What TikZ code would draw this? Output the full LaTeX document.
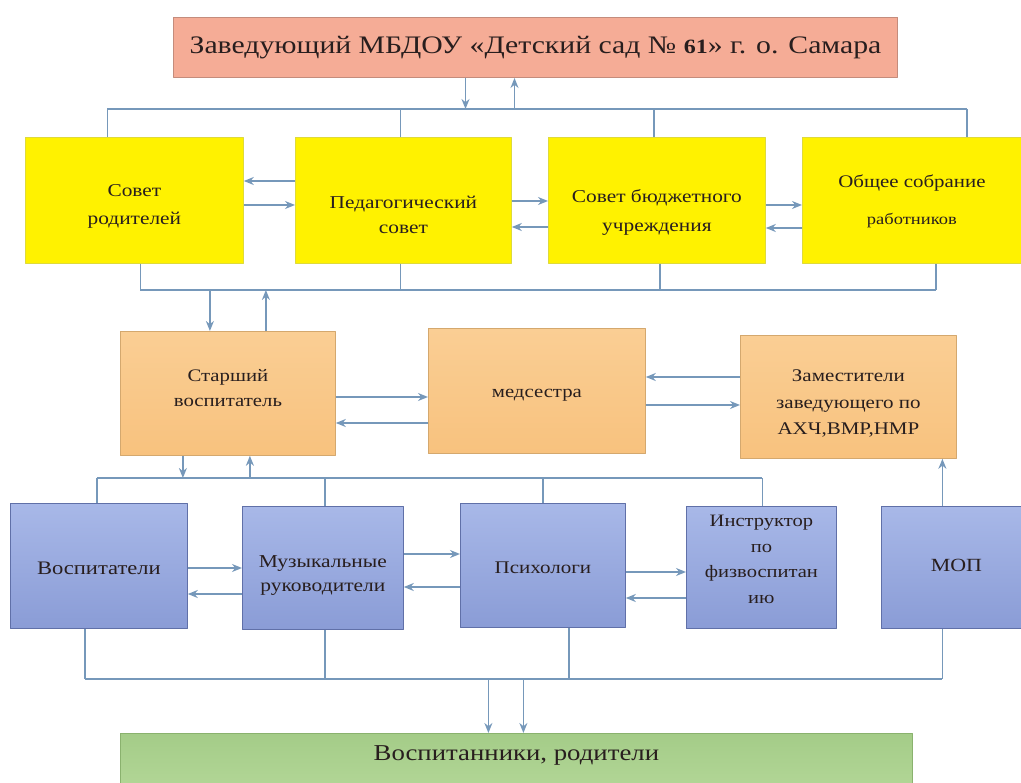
\documentclass[tikz,border=0pt]{standalone}
\usepackage{fontspec}
\setmainfont{Liberation Serif}[FakeStretch=1.18]
\usetikzlibrary{arrows.meta}
\definecolor{linkblue}{RGB}{118,152,186}
\definecolor{headfill}{RGB}{245,172,150}
\definecolor{headdraw}{RGB}{196,140,124}
\definecolor{councildraw}{RGB}{222,218,60}
\definecolor{stafftop}{RGB}{250,206,148}
\definecolor{staffbot}{RGB}{248,194,126}
\definecolor{staffdraw}{RGB}{212,168,110}
\definecolor{teamtop}{RGB}{168,184,232}
\definecolor{teambot}{RGB}{138,156,214}
\definecolor{teamdraw}{RGB}{96,112,168}
\definecolor{kidstop}{RGB}{164,204,136}
\definecolor{kidsbot}{RGB}{178,214,150}
\definecolor{kidsdraw}{RGB}{138,178,110}
\definecolor{textdark}{RGB}{40,30,30}
\begin{document}
\begin{tikzpicture}[x=1pt,y=-1pt,>={Stealth[length=10pt,width=8pt]},line join=round,
    every node/.style={align=center,text=textdark},
    box/.style={rectangle,anchor=north west,inner sep=0pt},
    head/.style={box,draw=headdraw,fill=headfill,line width=1pt},
    council/.style={box,draw=councildraw,fill=yellow,line width=0.8pt},
    staff/.style={box,draw=staffdraw,top color=stafftop,bottom color=staffbot,line width=0.8pt},
    team/.style={box,draw=teamdraw,top color=teamtop,bottom color=teambot,line width=0.8pt},
    kids/.style={box,draw=kidsdraw,top color=kidstop,bottom color=kidsbot,line width=0.8pt},
    txt/.style={inner sep=0pt},
    bus/.style={draw=linkblue,line width=1.2pt},
    arrow/.style={->,draw=linkblue,line width=1.8pt}]
    \useasboundingbox (0,0) rectangle (1021,783);
    \clip (0,0) rectangle (1021,783);
    % заведующий
    \node[head,minimum width=724,minimum height=60,font=\fontsize{25.2}{30}\selectfont] (zav) at (173,17)
        {Заведующий МБДОУ «Детский сад № {\bfseries\fontsize{20.3}{24}\selectfont 61}» г. о. Самара};
    % советы
    \node[council,minimum width=218,minimum height=126] (sr) at (25,137) {};
    \node[council,minimum width=216,minimum height=126] (ps) at (295,137) {};
    \node[council,minimum width=217,minimum height=126] (sb) at (548,137) {};
    \node[council,minimum width=219,minimum height=126] (os) at (802,137) {};
    \node[txt,font=\fontsize{18.1}{28}\selectfont] (sr-t) at ([yshift=-6]sr.center) {Совет\\родителей};
    \node[txt,font=\fontsize{18.1}{25}\selectfont] (ps-t) at ([yshift=-14]ps.center) {Педагогический\\совет};
    \node[txt,font=\fontsize{18.1}{29}\selectfont] (sb-t) at ([yshift=-12]sb.center) {Совет бюджетного\\учреждения};
    \node[txt,font=\fontsize{17.7}{37}\selectfont] (os-t) at ([yshift=-1]os.center)
        {Общее собрание\\{\fontsize{15.7}{19}\selectfont работников}};
    % старший воспитатель, медсестра, заместители
    \node[staff,minimum width=215,minimum height=124] (st) at (120,331) {};
    \node[staff,minimum width=217,minimum height=125] (ms) at (428,328) {};
    \node[staff,minimum width=216,minimum height=123] (zm) at (740,335) {};
    \node[txt,font=\fontsize{17.6}{25}\selectfont] (st-t) at ([yshift=5]st.center) {Старший\\воспитатель};
    \node[txt,font=\fontsize{17.6}{25}\selectfont] (ms-t) at ([yshift=-4]ms.center) {медсестра};
    \node[txt,font=\fontsize{17.8}{26.5}\selectfont] (zm-t) at ([yshift=-7]zm.center)
        {Заместители\\заведующего по\\АХЧ,ВМР,НМР};
    % педагоги
    \node[team,minimum width=177,minimum height=125] (vs) at (10,503) {};
    \node[team,minimum width=161,minimum height=123] (mr) at (242,506) {};
    \node[team,minimum width=165,minimum height=124] (psi) at (460,503) {};
    \node[team,minimum width=150,minimum height=122] (in) at (686,506) {};
    \node[team,minimum width=150,minimum height=122] (mop) at (881,506) {};
    \node[txt,font=\fontsize{19.1}{26}\selectfont] (vs-t) at ([yshift=-2]vs.center) {Воспитатели};
    \node[txt,font=\fontsize{18.2}{24}\selectfont] (mr-t) at ([yshift=-8]mr.center) {Музыкальные\\руководители};
    \node[txt,font=\fontsize{17.8}{26}\selectfont] (psi-t) at ([yshift=-2]psi.center) {Психологи};
    \node[txt,font=\fontsize{17.4}{25.7}\selectfont] (in-t) at ([yshift=8]in.center)
        {Инструктор\\по\\физвоспитан\\ию};
    \node[txt,font=\fontsize{18.6}{26}\selectfont] (mop-t) at ([yshift=2]mop.center) {МОП};
    % воспитанники
    \node[kids,minimum width=792,minimum height=54] (vr) at (120,733) {};
    \node[txt,font=\fontsize{22.7}{28}\selectfont] (vr-t) at ([yshift=5]vr.center) {Воспитанники, родители};

    % шины
    \coordinate (bus1) at (0,109);
    \coordinate (bus2) at (0,290);
    \coordinate (bus3) at (0,478);
    \coordinate (bus4) at (0,679);
    \draw[bus] ([xshift=-27]sr.north |- bus1) -- ([xshift=55]os.north |- bus1);
    \foreach \n/\s in {sr/-27,ps/-3,sb/-3,os/55}
        \draw[bus] ([xshift=\s]\n.north) -- ([xshift=\s]\n.north |- bus1);
    \draw[bus] ([xshift=6]sr.south |- bus2) -- ([xshift=24]os.south |- bus2);
    \foreach \n/\s in {sr/6,ps/-3,sb/3,os/24}
        \draw[bus] ([xshift=\s]\n.south) -- ([xshift=\s]\n.south |- bus2);
    \draw[bus] ([xshift=-2]vs.north |- bus3) -- ([xshift=1]in.north |- bus3);
    \foreach \n/\s in {vs/-2,mr/2,psi/0,in/1}
        \draw[bus] ([xshift=\s]\n.north) -- ([xshift=\s]\n.north |- bus3);
    \draw[bus] ([xshift=-14]vs.south |- bus4) -- ([xshift=-14]mop.south |- bus4);
    \foreach \n/\s in {vs/-14,mr/2,psi/26,mop/-14}
        \draw[bus] ([xshift=\s]\n.south) -- ([xshift=\s]\n.south |- bus4);

    % вертикальные стрелки
    \draw[arrow] ([xshift=-70]zav.south) -- ([xshift=-70]zav.south |- bus1);
    \draw[arrow] ([xshift=-21]zav.south |- bus1) -- ([xshift=-21]zav.south);
    \draw[arrow] ([xshift=-18]st.north |- bus2) -- ([xshift=-18]st.north);
    \draw[arrow] ([xshift=38]st.north) -- ([xshift=38]st.north |- bus2);
    \draw[arrow] ([xshift=-45]st.south) -- ([xshift=-45]st.south |- bus3);
    \draw[arrow] ([xshift=22]st.south |- bus3) -- ([xshift=22]st.south);
    \draw[arrow] ([xshift=-14]mop.north) -- ([xshift=-14]mop.north |- zm.south);
    \draw[arrow] ([xshift=-28]vr.north |- bus4) -- ([xshift=-28]vr.north);
    \draw[arrow] ([xshift=7]vr.north |- bus4) -- ([xshift=7]vr.north);

    % горизонтальные стрелки: вправо / влево
    \foreach \a/\b/\r/\l in {sr/ps/205/181, ps/sb/201/227, sb/os/205/228,
        st/ms/397/423, ms/zm/405/377, vs/mr/568/594, mr/psi/554/587, psi/in/572/598}
    {
        \draw[arrow] (\a.east |- 0,\r) -- (\b.west |- 0,\r);
        \draw[arrow] (\b.west |- 0,\l) -- (\a.east |- 0,\l);
    }
\end{tikzpicture}
\end{document}
